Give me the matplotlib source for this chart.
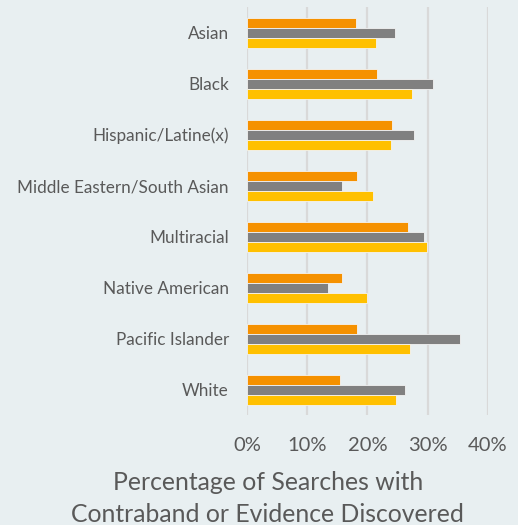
import matplotlib.pyplot as plt
from matplotlib.ticker import PercentFormatter
import numpy as np

# Hit rates per group, in percent
categories = ['Asian', 'Black', 'Hispanic/Latine(x)', 'Middle Eastern/South Asian',
              'Multiracial', 'Native American', 'Pacific Islander', 'White']
orange_vals = [18.1, 21.5, 24.1, 18.3, 26.7, 15.8, 18.3, 15.5]
gray_vals = [24.6, 30.9, 27.8, 15.8, 29.3, 13.4, 35.4, 26.3]
yellow_vals = [21.4, 27.4, 23.9, 20.9, 29.9, 20.0, 27.1, 24.7]
xticks = [0, 10, 20, 30, 40]

BG = '#E8EFF1'
TEXT = '#595959'
plt.rcParams['font.family'] = ['Lato', 'DejaVu Sans']

fig = plt.figure(figsize=(5.18, 5.25), dpi=100, facecolor=BG)
ax = fig.add_axes([0.4768, 0.2095, 0.4653, 0.777], facecolor=BG)

y = np.arange(len(categories))
h = 0.196
edge = dict(edgecolor='#F3F3F3', linewidth=0.6)
ax.barh(y - h, orange_vals, height=h, color='#F59100', zorder=3, **edge)
ax.barh(y, gray_vals, height=h, color='#808080', zorder=3, **edge)
ax.barh(y + h, yellow_vals, height=h, color='#FFC000', zorder=3, **edge)

ax.set_xlim(0, 40)
ax.set_ylim(-0.5, len(categories) - 0.5)
ax.invert_yaxis()
ax.set_xticks(xticks)
ax.xaxis.set_major_formatter(PercentFormatter(decimals=0))
ax.set_yticks(y)
ax.set_yticklabels(categories)
ax.grid(axis='x', color='#D9D9D9', linewidth=1.6, zorder=0)
for s in ax.spines.values():
    s.set_visible(False)
ax.tick_params(axis='y', length=0, pad=13, labelsize=12.3, labelcolor=TEXT)
ax.tick_params(axis='x', length=0, pad=16, labelsize=14.5, labelcolor=TEXT)

fig.text(0.517, 0.05, 'Percentage of Searches with\nContraband or Evidence Discovered',
         ha='center', va='center', fontsize=17.8, color=TEXT, linespacing=1.5)

fig.savefig('out.png', dpi=100, facecolor=BG)
